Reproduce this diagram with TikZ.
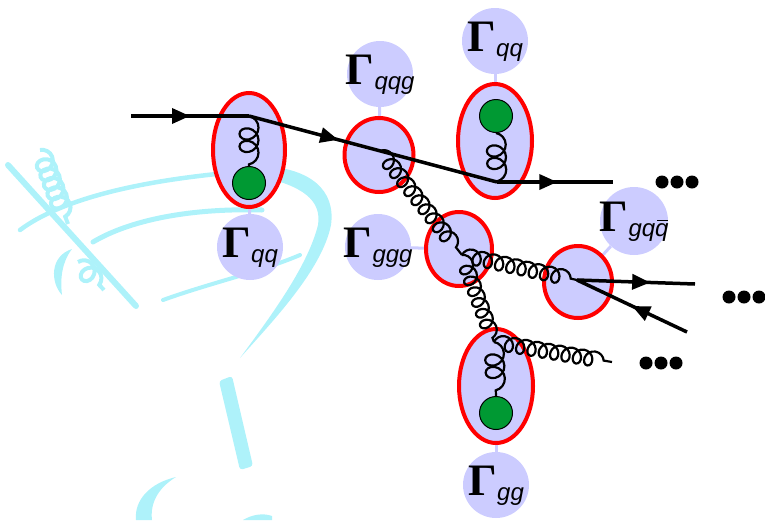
\documentclass[tikz,border=0pt]{standalone}
\usepackage{fontspec}
\setmainfont{Liberation Serif}
\setsansfont{Liberation Sans}
\usetikzlibrary{decorations.pathmorphing,decorations.markings,arrows.meta,shapes.geometric}

\definecolor{blob}{RGB}{204,204,255}
\definecolor{ring}{RGB}{255,0,0}
\definecolor{dotgreen}{RGB}{0,153,51}
\definecolor{glass}{RGB}{174,242,250}

\pgfdeclarelayer{glasslayer}
\pgfdeclarelayer{links}
\pgfsetlayers{glasslayer,links,main}

% vertex-function label: bold Gamma with a sans-serif italic subscript,
% given no size of its own so that the circle keeps a fixed diameter
\newcommand\gammalabel[1]{\makebox[0pt]{\raisebox{-10pt}[0pt][0pt]{%
  {\fontsize{45}{45}\selectfont\bfseries Γ}\kern0.5pt%
  \raisebox{-5pt}{\fontsize{24}{24}\selectfont\sffamily\itshape #1}}}}
% antiquark: q with a bar over it
\newcommand\qbar{\rlap{\kern0.08em\raisebox{0.62em}{\rule{0.45em}{1.3pt}}}q}

\tikzset{
  gamnode/.style={circle, fill=blob, minimum size=66pt, inner sep=0pt},
  ringblob/.style={ellipse, fill=blob, draw=ring, line width=4pt, inner sep=0pt},
  link/.style={draw=blob, line width=3pt},
  quark/.style={line width=3.5pt, black},
  fwd/.style={postaction={decorate}, decoration={markings,
      mark=at position #1 with {\arrow{Triangle[length=18pt,width=15pt]}}}},
  gluonbig/.style={decorate, line width=2.2pt, decoration={coil, aspect=0.9,
      amplitude=9.5pt, segment length=12.5pt}},
  gluon/.style={decorate, line width=2.2pt, decoration={coil, aspect=0.9,
      amplitude=7.5pt, segment length=11.5pt}},
  gdot/.style={circle, fill=dotgreen, draw=black, line width=1pt, minimum size=33pt, inner sep=0pt},
  bdot/.style={circle, fill=black, minimum size=13pt, inner sep=0pt},
  glassline/.style={draw=glass, line cap=round},
  glasscoil/.style={draw=glass, line width=4pt, decorate, decoration={coil, aspect=0.9,
      amplitude=9pt, segment length=10pt}},
}

\begin{document}
\begin{tikzpicture}[x=1pt, y=-1pt]
\useasboundingbox (0,0) rectangle (765,520);

% ---------- cocktail glass in the background ----------
\begin{pgfonlayer}{glasslayer}
  % straw with two gluons curling off it
  \draw[glassline, line width=6pt] (8,165) -- (136,306);
  \draw[glasscoil] (40,150) -- (68,224);
  \draw[glasscoil] (78,262) -- (104,290);
  \fill[glass] (72,249) .. controls (50,256) and (50,282) .. (62,295)
               .. controls (60,278) and (62,262) .. (72,249) -- cycle;
  % rim of the bowl
  \draw[glassline, line width=4.5pt] (20,230) .. controls (60,200) and (140,178) .. (265,170);
  \draw[glassline, line width=5pt] (93,242) .. controls (130,220) and (190,208) .. (262,210);
  % right side of the bowl sweeping down to the stem
  \fill[glass] (262,166) .. controls (310,168) and (336,190) .. (331,225)
               .. controls (322,270) and (272,322) .. (240,358)
               .. controls (274,312) and (308,265) .. (318,225)
               .. controls (322,200) and (302,186) .. (262,177) -- cycle;
  \draw[glassline, line width=4pt] (163,300) .. controls (210,283) and (260,272) .. (300,255);
  % stem and foot
  \fill[glass, rounded corners=3pt] (219,381) -- (232,376) -- (253,466) -- (240,470) -- cycle;
  \fill[glass] (176,477) .. controls (150,483) and (134,500) .. (136,520) -- (152,520)
               .. controls (150,503) and (158,488) .. (176,477) -- cycle;
  \fill[glass] (243,520) .. controls (253,514) and (264,513) .. (272,516) -- (272,520) -- cycle;
\end{pgfonlayer}

% ---------- vertex functions ----------
\node[gamnode] (Gqa)  at (250,247) {\gammalabel{qq}};
\node[gamnode] (Gqqg) at (380,74)  {\gammalabel{qqg}};
\node[gamnode] (Gqb)  at (495,41)  {\gammalabel{qq}};
\node[gamnode] (Gggg) at (378,247) {\gammalabel{ggg}};
\node[gamnode, minimum size=68pt] (Ggqq) at (634,221) {\gammalabel{gq\qbar}};
\node[gamnode] (Ggg)  at (496,485) {\gammalabel{gg}};

% ---------- interaction blobs ----------
\node[ringblob, minimum width=72pt, minimum height=114pt] (E1) at (249,150) {};
\node[ringblob, minimum width=69pt, minimum height=74pt]  (R2) at (379,155) {};
\node[ringblob, minimum width=74pt, minimum height=114pt] (E3) at (495,141) {};
\node[ringblob, minimum width=66pt, minimum height=74pt]  (R4) at (459,249) {};
\node[ringblob, minimum width=68pt, minimum height=72pt]  (R5) at (578,282) {};
\node[ringblob, minimum width=74pt, minimum height=114pt] (E6) at (496,386) {};

\begin{pgfonlayer}{links}
  \draw[link] (E1) -- (Gqa);
  \draw[link] (R2) -- (Gqqg);
  \draw[link] (E3) -- (Gqb);
  \draw[link] (R4) -- (Gggg);
  \draw[link] (R5) -- (Ggqq);
  \draw[link] (E6) -- (Ggg);
\end{pgfonlayer}

% ---------- green condensate dots ----------
\node[gdot] (D1) at (249,183) {};
\node[gdot] (D3) at (496,116) {};
\node[gdot] (D6) at (496,413) {};

% ---------- vertices ----------
\coordinate (qin)  at (131,116);
\coordinate (v1)   at (249,116);
\coordinate (v2)   at (380,151);
\coordinate (v3)   at (497,182);
\coordinate (qout) at (613,182);
\coordinate (v4)   at (462,255);
\coordinate (v5)   at (577,280);
\coordinate (v6)   at (494,342);
\coordinate (gout) at (612,362);
\coordinate (qo5)  at (695,284);
\coordinate (aq5)  at (687,332);

% gluons
\draw[gluonbig] (v1) -- (D1.north);
\draw[gluonbig] (D3.south) -- (v3);
\draw[gluonbig] (v6) -- (D6.north);
\draw[gluon] (v2) -- (v4);
\draw[gluon] (v4) -- (v5);
\draw[gluon] (v4) -- (v6);
\draw[gluon] (v6) -- (gout);

% quark lines
\draw[quark, fwd=0.5]  (qin) -- (v1);
\draw[quark, fwd=0.36] (v1) -- (v3);
\draw[quark, fwd=0.52] (v3) -- (qout);
\draw[quark, fwd=0.62] (v5) -- (qo5);
\draw[quark, fwd=0.5]  (aq5) -- (v5);

% continuation dots
\node[bdot] (a1) at (662,182) {};
\node[bdot] (a2) at (677,182) {};
\node[bdot] (a3) at (692,182) {};
\node[bdot] (b1) at (729,297) {};
\node[bdot] (b2) at (744,297) {};
\node[bdot] (b3) at (759,297) {};
\node[bdot] (c1) at (646,363) {};
\node[bdot] (c2) at (661,363) {};
\node[bdot] (c3) at (676,363) {};
\end{tikzpicture}
\end{document}
